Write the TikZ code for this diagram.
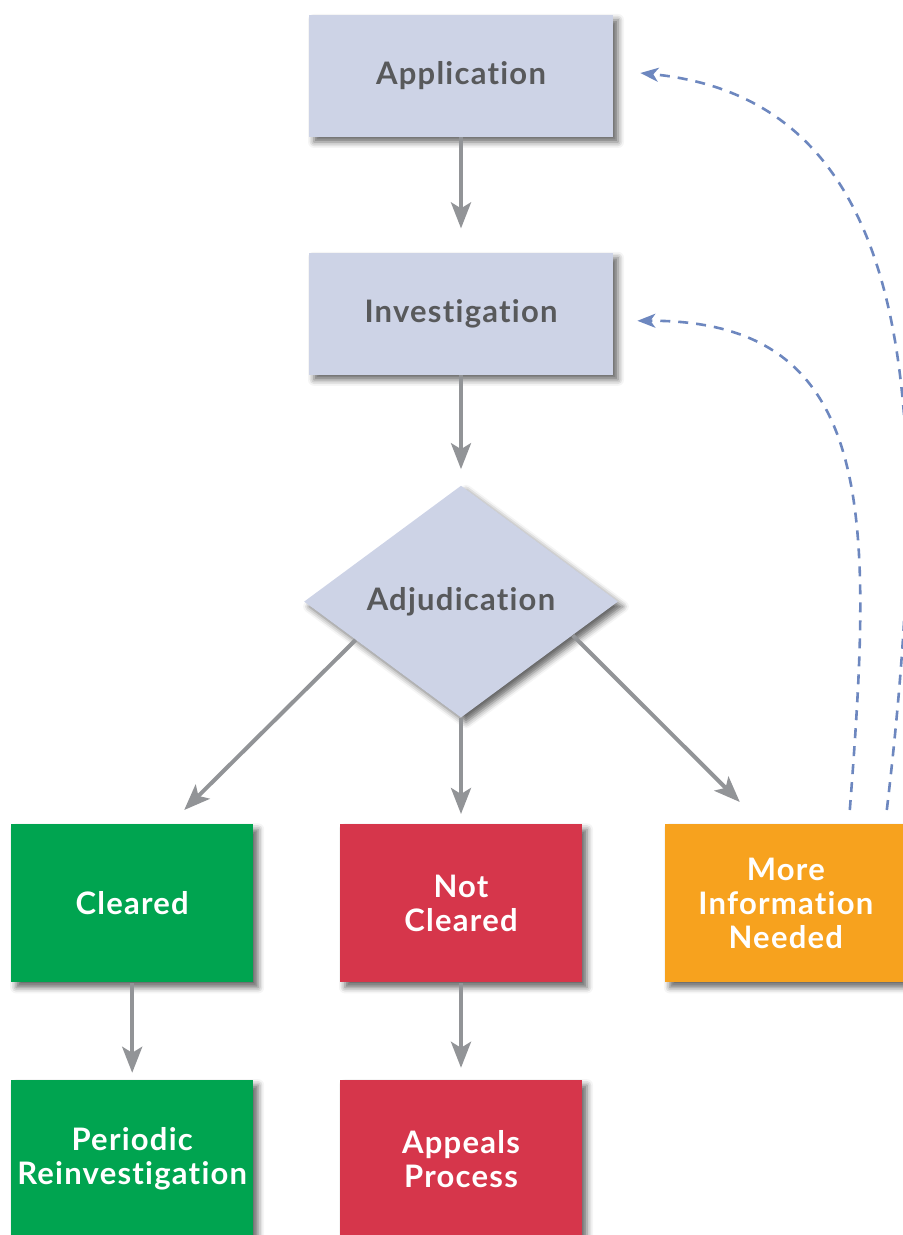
\documentclass[tikz,border=0pt]{standalone}
\usepackage{fontspec}
\usepackage{tikz}
\usetikzlibrary{shapes.geometric, arrows.meta, positioning, calc, shadows, shadows.blur}
\newfontfamily\boxfont[LetterSpace=4, Ligatures={NoCommon}]{Lato}
\definecolor{boxgray}{RGB}{205,211,230}
\definecolor{txtgray}{RGB}{88,89,91}
\definecolor{clrgreen}{RGB}{0,164,80}
\definecolor{notred}{RGB}{214,54,75}
\definecolor{moreorange}{RGB}{247,162,30}
\definecolor{arrgray}{RGB}{146,148,151}
\definecolor{dashblue}{RGB}{109,135,191}

\begin{document}
\begin{tikzpicture}[
    x=0.5pt, y=-0.5pt,
    shade/.style={blur shadow={shadow xshift=2.5pt, shadow yshift=-2.5pt,
                  shadow blur radius=3pt, shadow opacity=60}},
    graybox/.style={rectangle, fill=boxgray, shade, minimum width=152pt,
                    minimum height=61pt, inner sep=0pt,
                    font=\boxfont\bfseries\fontsize{15.5}{17}\selectfont,
                    text=txtgray, align=center},
    decide/.style={diamond, fill=boxgray, shade, minimum width=157pt,
                   minimum height=116pt, inner sep=0pt,
                   font=\boxfont\bfseries\fontsize{15.5}{17}\selectfont,
                   text=txtgray, align=center},
    colbox/.style={rectangle, shade, minimum width=121pt, minimum height=79pt,
                   inner sep=0pt, font=\boxfont\bfseries\fontsize{15.5}{17}\selectfont,
                   text=white, align=center},
    greenbox/.style={colbox, fill=clrgreen},
    redbox/.style={colbox, fill=notred},
    orangebox/.style={colbox, fill=moreorange},
    arr/.style={-{Stealth[length=13pt, width=10pt, inset=3pt]}, line width=2pt,
                draw=arrgray},
    back/.style={-{Stealth[length=9pt, width=7pt, inset=2.5pt]}, line width=1.3pt,
                 draw=dashblue, dash pattern=on 5pt off 4pt}
  ]
    \useasboundingbox (0,0) rectangle (902,1235);

    \node[graybox] (app) at (461,76) {Application};
    \node[graybox, below=57.5pt of app] (inv)  {Investigation};
    \node[decide,  below=55pt of inv]   (adj)  {Adjudication};
    \node[redbox,    below=53pt of adj]   (notcl) {Not\\Cleared};
    \node[greenbox,  left=43pt of notcl]  (clr)   {Cleared};
    \node[orangebox, right=41pt of notcl] (more)  {More\\Information\\Needed};
    \node[greenbox, below=48.5pt of clr]   (peri)   {Periodic\\Reinvestigation};
    \node[redbox,   below=48.5pt of notcl] (appeal) {Appeals\\Process};

    % free ends of the slanted and dashed arrows
    \coordinate (clrin)  at ($(clr.north)+(52,-14)$);
    \coordinate (morein) at ($(more.north)+(-46,-22)$);
    \coordinate (invin)  at ($(inv.east)+(24,7)$);
    \coordinate (appin)  at ($(app.east)+(27,-3)$);

    \draw[arr, shorten >=12pt] (app) -- (inv);
    \draw[arr, shorten >=8pt]  (inv) -- (adj);
    \draw[arr] ($(adj.west)!0.33!(adj.south)$) -- (clrin);
    \draw[arr, shorten >=5pt]  (adj.south) -- (notcl.north);
    \draw[arr] ($(adj.east)!0.29!(adj.south)$) -- (morein);
    \draw[arr, shorten >=3.5pt] (clr) -- (peri);
    \draw[arr, shorten >=6pt]   (notcl) -- (appeal);

    \draw[back] ($(more.north)+(64,-14)$) .. controls (872,520) and (880,320) .. (invin);
    \draw[back] ($(more.north)+(101,-14)$) .. controls (935,400) and (915,100) .. (appin);

  \end{tikzpicture}
\end{document}
